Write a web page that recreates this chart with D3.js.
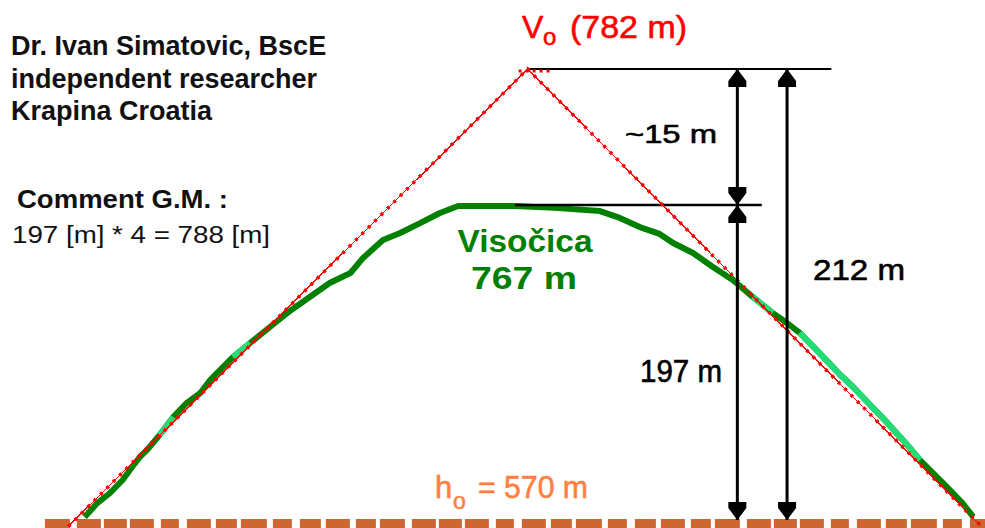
<!DOCTYPE html>
<html>
<head>
<meta charset="utf-8">
<script src="https://cdn.jsdelivr.net/npm/d3@7"></script>
<style>
body { margin: 0; background: #fff; }
svg { display: block; }
</style>
</head>
<body>
<svg id="chart"></svg>
<script>
// profile of Visočica: horizontal distance (% of pyramid base), elevation (m)
var profileDist = [1.4, 2.8, 4.2, 5.6, 6.4, 7.5, 8.3, 9.7, 11.2, 12.7, 14.2, 15.3, 17.8, 19.7, 21.9, 24.1, 26.3, 28.5,
	30.8, 32.2, 34.4, 36.3, 38.5, 40.7, 42.7, 49.0, 53.4, 58.4, 60.6, 62.8, 65.0, 66.5, 68.7, 70.9, 73.1, 75.3,
	77.5, 79.1, 80.5, 82.7, 85.0, 86.4, 88.3, 90.2, 92.2, 93.8, 96.8, 98.5, 99.7]
var profileElev = [571.9, 580.6, 586.9, 595.0, 601.3, 609.4, 613.8, 623.2, 634.4, 643.2, 649.4, 657.6, 671.9, 680.7, 690.7, 700.7, 709.5, 718.2,
	724.5, 733.9, 745.1, 749.5, 755.7, 762.0, 766.4, 766.4, 765.2, 763.2, 758.9, 753.2, 748.9, 743.2, 737.0, 728.2, 720.1, 709.5,
	699.5, 693.2, 687.0, 674.4, 660.7, 653.2, 641.9, 630.7, 618.2, 607.5, 590.6, 580.6, 571.9]
// parts of the profile drawn in light green
var lightRanges = [[9.7, 11.2], [17.8, 19.7], [75.3, 77.5], [80.5, 93.8]]

// ideal pyramid (red)
var pyramidDist = [-0.4, 50.4, 100.6]
var pyramidElev = [566, 782, 566]

// levels: h0, Visočica top, V0
var levels = [570, 767, 782]
var groundExtent = [-3, 101]
var topLineExtent = [50.6, 84.0]
var midLineExtent = [49.0, 76.3]
var arrowDist = [73.6, 79.1]

var width = 985
var height = 528

const svg = d3.select("#chart")
	.attr("width", width)
	.attr("height", height)
	.attr("viewBox", [0, 0, width, height])
	.style("font-family", "'Liberation Sans', Arial, sans-serif");

const x = d3.scaleLinear().domain([0, 100]).range([72, 976]);
// the sketch is not to scale, so the elevation scale is piecewise
const y = d3.scaleLinear().domain(levels).range([520, 205, 69]);

const line = d3.line().x(d => x(d[0])).y(d => y(d[1]));

const profile = profileDist.map((d, i) => [d, profileElev[i]]);
const pyramid = pyramidDist.map((d, i) => [d, pyramidElev[i]]);

// arrow head
svg.append("defs").append("marker")
	.attr("id", "head")
	.attr("viewBox", "0 0 18 20")
	.attr("refX", 18)
	.attr("refY", 10)
	.attr("markerWidth", 18)
	.attr("markerHeight", 20)
	.attr("markerUnits", "userSpaceOnUse")
	.attr("orient", "auto-start-reverse")
	.append("path")
	.attr("d", "M0,1 L6,1 L18,10 L6,19 L0,19 Z")
	.attr("fill", "#000");

// ground h0
svg.append("path")
	.attr("d", line([[groundExtent[0], levels[0]], [groundExtent[1], levels[0]]]))
	.attr("transform", "translate(0,5)")
	.attr("fill", "none")
	.attr("stroke", "#cc6633")
	.attr("stroke-width", 12)
	.attr("stroke-dasharray", "25,7,24,3,23,3,24,7,18,8,24,5,21,4,26,6,19,8,21,5,24,6,20,4");

// profile
svg.append("path")
	.attr("d", line(profile))
	.attr("fill", "none")
	.attr("stroke", "#008000")
	.attr("stroke-width", 6)
	.attr("stroke-linejoin", "round");

svg.selectAll(".light")
	.data(lightRanges)
	.join("path")
	.attr("class", "light")
	.attr("d", r => line(profile.filter(p => p[0] >= r[0] && p[0] <= r[1])))
	.attr("fill", "none")
	.attr("stroke", "#22dd77")
	.attr("stroke-width", 6)
	.attr("stroke-linejoin", "round");

// black level lines
svg.append("path")
	.attr("d", line([[topLineExtent[0], levels[2]], [topLineExtent[1], levels[2]]]))
	.attr("stroke", "#000")
	.attr("stroke-width", 2);
svg.append("path")
	.attr("d", line([[midLineExtent[0], levels[1]], [midLineExtent[1], levels[1]]]))
	.attr("stroke", "#000")
	.attr("stroke-width", 2.5);

// red pyramid
svg.append("path")
	.attr("d", line(pyramid))
	.attr("fill", "none")
	.attr("stroke", "#ff0000")
	.attr("stroke-width", 1.2)
	.attr("shape-rendering", "crispEdges");
svg.append("path")
	.attr("d", line(pyramid))
	.attr("fill", "none")
	.attr("stroke", "#ff0000")
	.attr("stroke-width", 3.5)
	.attr("stroke-dasharray", "3,6");
svg.append("path")
	.attr("d", line([[49.4, levels[2]], [53.2, levels[2]]]))
	.attr("transform", "translate(0,2)")
	.attr("stroke", "#ff0000")
	.attr("stroke-width", 3)
	.attr("stroke-dasharray", "3,4");

// dimension arrows
const arrows = [
	[arrowDist[0], levels[2], levels[1]],
	[arrowDist[0], levels[1], levels[0]],
	[arrowDist[1], levels[2], levels[0]]
];
svg.selectAll(".arrow")
	.data(arrows)
	.join("path")
	.attr("class", "arrow")
	.attr("d", d => line([[d[0], d[1]], [d[0], d[2]]]))
	.attr("stroke", "#000")
	.attr("stroke-width", 3)
	.attr("marker-start", "url(#head)")
	.attr("marker-end", "url(#head)");

// texts
function label(txt, px, py, size, opts) {
	opts = opts || {};
	const t = svg.append("text")
		.attr("x", px)
		.attr("y", py)
		.attr("font-size", size)
		.attr("font-weight", opts.bold ? "bold" : "normal")
		.attr("fill", opts.color || "#000")
		.attr("text-anchor", opts.anchor || "start")
		.text(txt);
	if (opts.w) t.attr("textLength", opts.w).attr("lengthAdjust", "spacingAndGlyphs");
	if (opts.heavy) t.attr("stroke", opts.color || "#000").attr("stroke-width", 0.6);
	return t;
}

label("Dr. Ivan Simatovic, BscE", 11, 55, 27, {bold: true, color: "#111"});
label("independent researcher", 11, 88, 27, {bold: true, color: "#111"});
label("Krapina Croatia", 11, 120, 27, {bold: true, color: "#111"});
label("Comment G.M. :", 17, 208, 26, {bold: true, color: "#111", w: 211});
label("197 [m] * 4 = 788 [m]", 12, 243, 23, {color: "#111", w: 258});

label("V", 522, 38, 32, {color: "#ff0000", heavy: true});
label("o", 543, 45, 24, {color: "#ff0000", heavy: true});
label("(782 m)", 570, 38, 32, {color: "#ff0000", w: 117, heavy: true});

label("~15 m", 625, 143, 26, {w: 92, heavy: true});
label("212 m", 813, 280, 30, {w: 92, heavy: true});
label("197 m", 640, 382, 31, {w: 82, heavy: true});

label("Visočica", 525, 252, 32, {bold: true, color: "#008000", anchor: "middle", w: 135});
label("767 m", 524, 289, 32, {bold: true, color: "#008000", anchor: "middle", w: 106});

label("h", 435, 498, 31, {color: "#ff8040", heavy: true});
label("o", 453, 509, 23, {color: "#ff8040", heavy: true});
label("= 570 m", 478, 498, 31, {color: "#ff8040", w: 110, heavy: true});
</script>
</body>
</html>
